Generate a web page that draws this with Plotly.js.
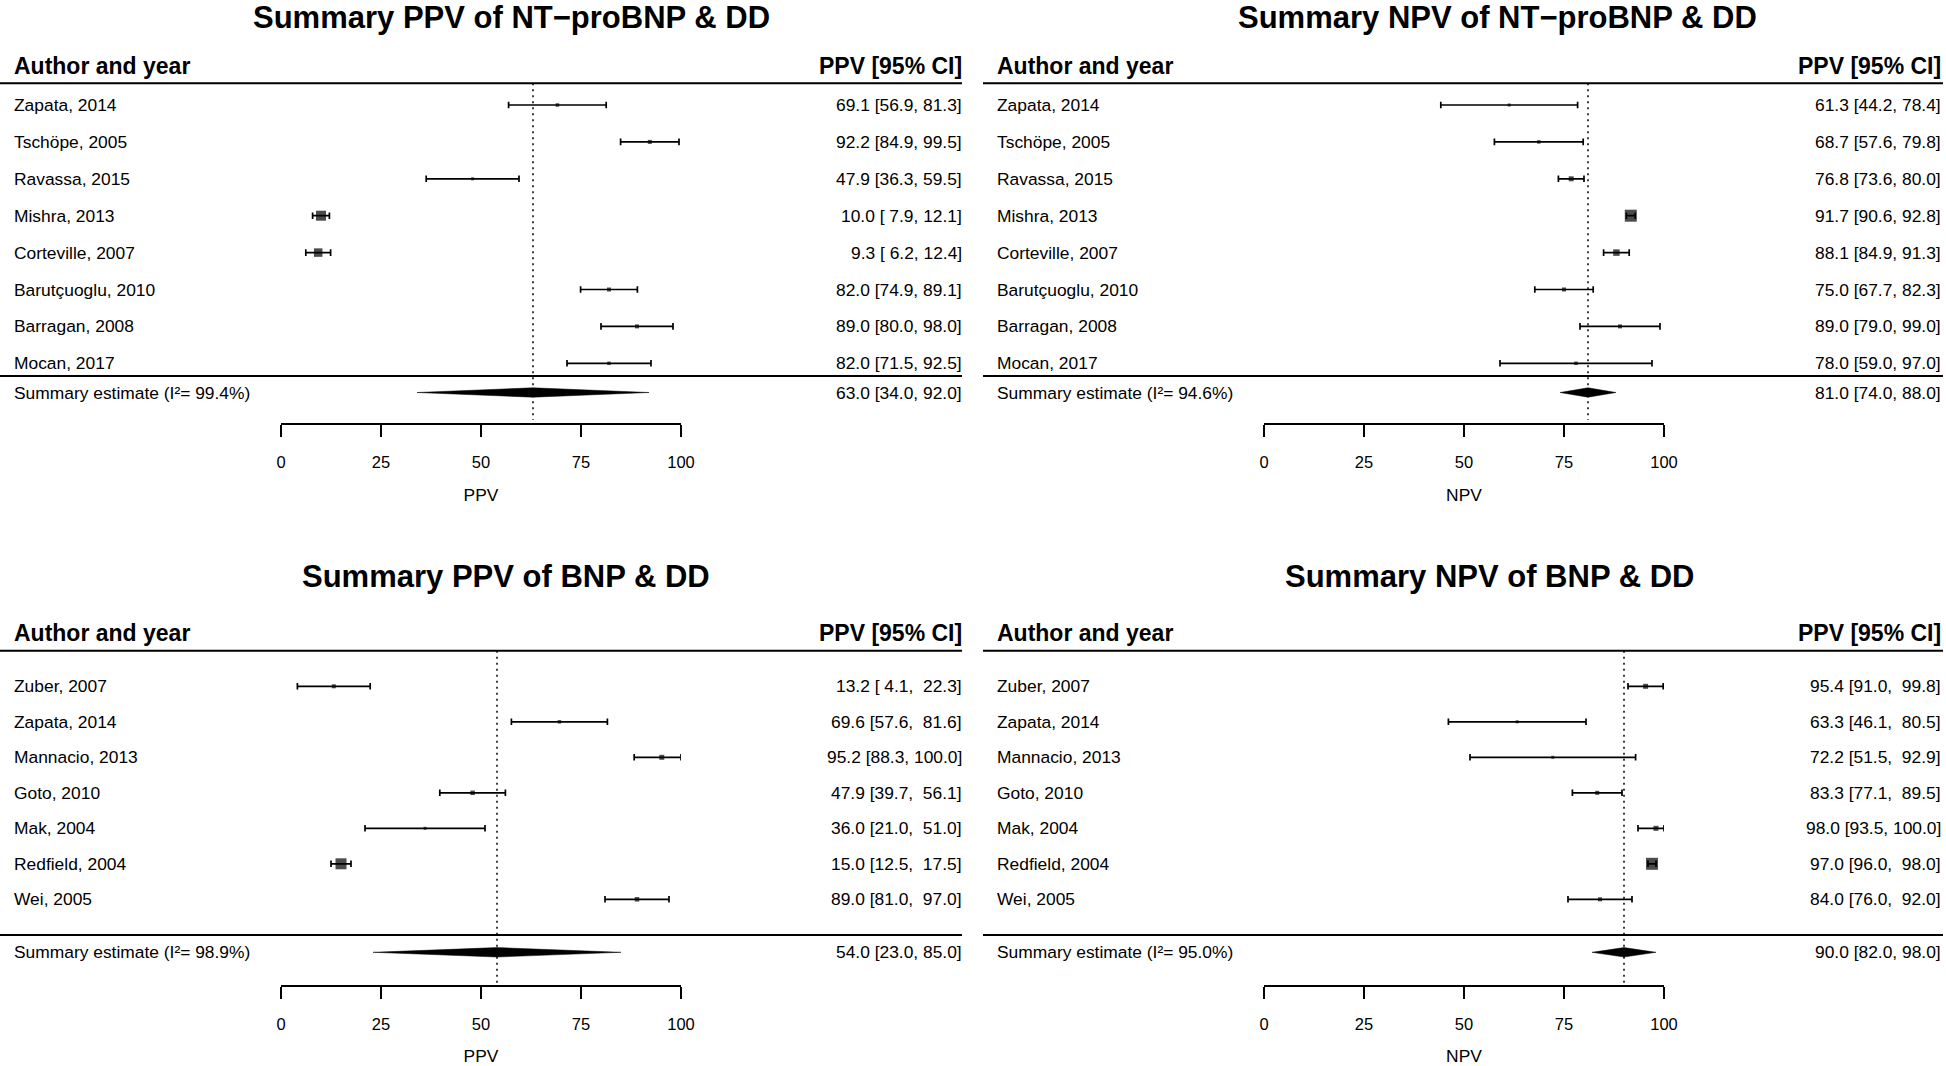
<!DOCTYPE html>
<html>
<head>
<meta charset="utf-8">
<script src="https://cdn.plot.ly/plotly-3.0.1.min.js"></script>
<style>
  html, body { margin: 0; padding: 0; background: #ffffff; }
  #chart { width: 1946px; height: 1066px; }
</style>
</head>
<body>
<div id="chart"></div>
<script>
// ------------------------------------------------------------------
// DATA
// ------------------------------------------------------------------
const ntStudies = ["Zapata, 2014", "Tschöpe, 2005", "Ravassa, 2015", "Mishra, 2013",
                   "Corteville, 2007", "Barutçuoglu, 2010", "Barragan, 2008", "Mocan, 2017"];
const bnpStudies = ["Zuber, 2007", "Zapata, 2014", "Mannacio, 2013", "Goto, 2010",
                    "Mak, 2004", "Redfield, 2004", "Wei, 2005"];

// NT-proBNP & DD : PPV
const ntPpvEst = [69.1, 92.2, 47.9, 10.0, 9.3, 82.0, 89.0, 82.0];
const ntPpvLo  = [56.9, 84.9, 36.3,  7.9, 6.2, 74.9, 80.0, 71.5];
const ntPpvHi  = [81.3, 99.5, 59.5, 12.1, 12.4, 89.1, 98.0, 92.5];
// NT-proBNP & DD : NPV
const ntNpvEst = [61.3, 68.7, 76.8, 91.7, 88.1, 75.0, 89.0, 78.0];
const ntNpvLo  = [44.2, 57.6, 73.6, 90.6, 84.9, 67.7, 79.0, 59.0];
const ntNpvHi  = [78.4, 79.8, 80.0, 92.8, 91.3, 82.3, 99.0, 97.0];
// BNP & DD : PPV
const bnpPpvEst = [13.2, 69.6, 95.2, 47.9, 36.0, 15.0, 89.0];
const bnpPpvLo  = [ 4.1, 57.6, 88.3, 39.7, 21.0, 12.5, 81.0];
const bnpPpvHi  = [22.3, 81.6, 100.0, 56.1, 51.0, 17.5, 97.0];
// BNP & DD : NPV
const bnpNpvEst = [95.4, 63.3, 72.2, 83.3, 98.0, 97.0, 84.0];
const bnpNpvLo  = [91.0, 46.1, 51.5, 77.1, 93.5, 96.0, 76.0];
const bnpNpvHi  = [99.8, 80.5, 92.9, 89.5, 100.0, 98.0, 92.0];

// Summary estimates, order: NT PPV, NT NPV, BNP PPV, BNP NPV
const summaryEst = [63.0, 81.0, 54.0, 90.0];
const summaryLo  = [34.0, 74.0, 23.0, 82.0];
const summaryHi  = [92.0, 88.0, 85.0, 98.0];
const summaryI2  = [99.4, 94.6, 98.9, 95.0];

const panelTitles = ["Summary PPV of NT\u2212proBNP & DD", "Summary NPV of NT\u2212proBNP & DD",
                     "Summary PPV of BNP & DD", "Summary NPV of BNP & DD"];
const axisTitles = ["PPV", "NPV", "PPV", "NPV"];
const axisTicks = [0, 25, 50, 75, 100];
const headLeft = "Author and year";
const headRight = "PPV [95% CI]";

// ------------------------------------------------------------------
// STYLE / GEOMETRY (pixels)
// ------------------------------------------------------------------
const W = 1946, H = 1066;
const FONT = "Liberation Sans, Arial, Helvetica, sans-serif";
const boxSizes = [
  [3.5, 4, 3, 10, 8.5, 4, 4, 3.5],
  [3, 3.5, 5, 12, 6.5, 4, 4, 3.5],
  [4, 3.5, 5, 4.5, 3, 11, 4.5],
  [5, 3, 3, 4, 5, 12, 4]
];
const rowGeom = [
  { title: 0,     head: 66.2,  headLine: 83.3,  row0: 105,   step: 36.9, botLine: 376, summ: 392.5, refBot: 420, axis: 424 },
  { title: 576.7, head: 633.3, headLine: 650.7, row0: 686.3, step: 35.5, botLine: 935, summ: 952.3, refBot: 984, axis: 986 }
];
const colGeom = [
  { lineL: 0,   lineR: 962,  textL: 13.5, textR: 962,  a0: 281,  a100: 681 },
  { lineL: 983, lineR: 1943, textL: 997,  textR: 1941, a0: 1264, a100: 1664 }
];
const titleX = [511.5, 1497, 506, 1489];

const panels = [
  { names: ntStudies,  est: ntPpvEst,  lo: ntPpvLo,  hi: ntPpvHi,  r: 0, c: 0 },
  { names: ntStudies,  est: ntNpvEst,  lo: ntNpvLo,  hi: ntNpvHi,  r: 0, c: 1 },
  { names: bnpStudies, est: bnpPpvEst, lo: bnpPpvLo, hi: bnpPpvHi, r: 1, c: 0 },
  { names: bnpStudies, est: bnpNpvEst, lo: bnpNpvLo, hi: bnpNpvHi, r: 1, c: 1 }
];

function f1(v) { return v.toFixed(1); }
function padTo(s, w) { while (s.length < w) s = "\u00A0" + s; return s; }

const traces = [];
const annotations = [];
const shapes = [];
const layout = {
  width: W, height: H,
  margin: { l: 0, r: 0, t: 0, b: 0, pad: 0 },
  paper_bgcolor: "#ffffff",
  plot_bgcolor: "rgba(0,0,0,0)",
  showlegend: false,
  font: { family: FONT, color: "#000000" },
  yaxis: { domain: [0, 1], range: [H, 0], visible: false, fixedrange: true, anchor: "free", position: 0 }
};

function txt(text, xpx, ypx, anchor, size, bold, vanchor) {
  annotations.push({
    text: text, xref: "paper", yref: "y", x: xpx / W, y: ypx,
    xanchor: anchor, yanchor: vanchor || "middle", showarrow: false,
    borderpad: 0, borderwidth: 0,
    font: { family: FONT, size: size, color: "#000000", weight: bold ? "bold" : "normal" }
  });
}
function hline(x0, x1, ypx) {
  shapes.push({ type: "line", xref: "paper", yref: "y", x0: x0 / W, x1: x1 / W, y0: ypx, y1: ypx,
                line: { color: "#000000", width: 2 } });
}

panels.forEach((p, k) => {
  const g = rowGeom[p.r], c = colGeom[p.c];
  const axName = k === 0 ? "x" : "x" + (k + 1);
  const axKey = k === 0 ? "xaxis" : "xaxis" + (k + 1);
  const ys = p.names.map((_, i) => g.row0 + i * g.step);

  layout[axKey] = {
    domain: [c.a0 / W, c.a100 / W], range: [0, 100],
    anchor: "free", position: 1 - g.axis / H, side: "bottom",
    showline: true, linewidth: 2, linecolor: "#000000",
    ticks: "outside", ticklen: 12, tickwidth: 2, tickcolor: "#000000",
    tickmode: "array", tickvals: axisTicks, ticktext: axisTicks.map(String),
    tickfont: { family: FONT, size: 16.5, color: "#000000" },
    ticklabelstandoff: 11,
    showgrid: false, zeroline: false, fixedrange: true,
    title: { text: axisTitles[k], font: { family: FONT, size: 17.4, color: "#000000" }, standoff: 18 }
  };

  // reference (summary) dotted line
  traces.push({
    type: "scatter", mode: "lines", xaxis: axName, yaxis: "y",
    x: [summaryEst[k], summaryEst[k]], y: [g.headLine, g.refBot],
    line: { color: "#000000", width: 1.5, dash: "2px,4px" },
    hoverinfo: "skip", cliponaxis: false
  });

  // study estimates with CIs
  traces.push({
    type: "scatter", mode: "markers", xaxis: axName, yaxis: "y",
    x: p.est, y: ys,
    error_x: {
      type: "data", symmetric: false,
      array: p.hi.map((h, i) => h - p.est[i]),
      arrayminus: p.lo.map((l, i) => p.est[i] - l),
      color: "#000000", thickness: 1.7, width: 3.3
    },
    marker: { symbol: "square", size: boxSizes[k], color: "#000000", line: { width: 0 } },
    hoverinfo: "skip", cliponaxis: false
  });

  // summary diamond
  const dh = 4.7;
  traces.push({
    type: "scatter", mode: "lines", xaxis: axName, yaxis: "y",
    x: [summaryLo[k], summaryEst[k], summaryHi[k], summaryEst[k], summaryLo[k]],
    y: [g.summ, g.summ - dh, g.summ, g.summ + dh, g.summ],
    fill: "toself", fillcolor: "#000000",
    line: { color: "#000000", width: 0.5 },
    hoverinfo: "skip", cliponaxis: false
  });

  // texts
  if (p.r === 0) txt(panelTitles[k], titleX[k], g.title, "center", 31, true, "top");
  else txt(panelTitles[k], titleX[k], g.title, "center", 31, true, "middle");
  txt(headLeft, c.textL, g.head, "left", 23, true);
  txt(headRight, c.textR, g.head, "right", 23, true);

  const wLo = Math.max(...p.lo.map(v => f1(v).length));
  const wHi = Math.max(...p.hi.map(v => f1(v).length));
  p.names.forEach((nm, i) => {
    txt(nm, c.textL, ys[i], "left", 17.4, false);
    const ci = f1(p.est[i]) + " [" + padTo(f1(p.lo[i]), wLo) + ", " + padTo(f1(p.hi[i]), wHi) + "]";
    txt(ci, c.textR, ys[i], "right", 17.4, false);
  });
  txt("Summary estimate (I\u00B2= " + f1(summaryI2[k]) + "%)", c.textL, g.summ, "left", 17.4, false);
  txt(f1(summaryEst[k]) + " [" + f1(summaryLo[k]) + ", " + f1(summaryHi[k]) + "]", c.textR, g.summ, "right", 17.4, false);

  hline(c.lineL, c.lineR, g.headLine);
  hline(c.lineL, c.lineR, g.botLine);
});

layout.annotations = annotations;
layout.shapes = shapes;

Plotly.newPlot("chart", traces, layout, { staticPlot: true, displayModeBar: false });
</script>
</body>
</html>
